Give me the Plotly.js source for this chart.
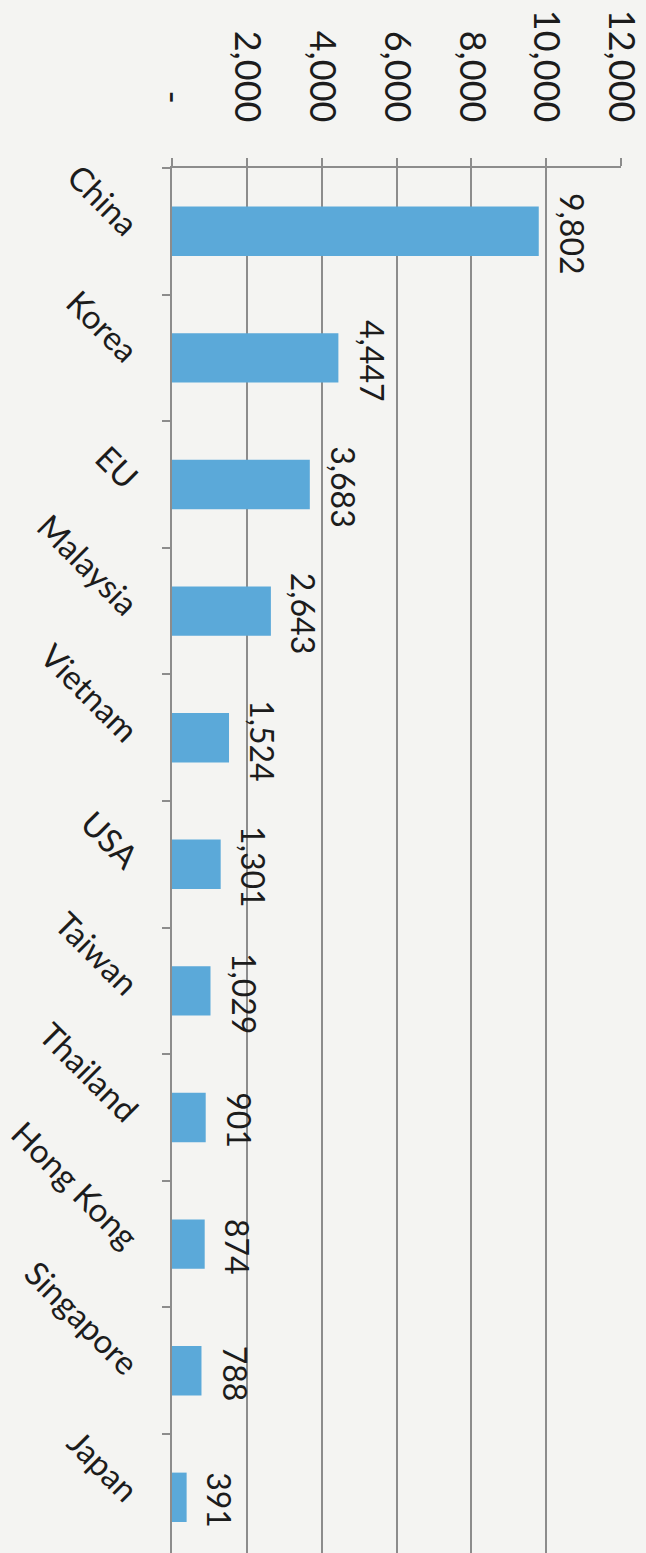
<!DOCTYPE html>
<html>
<head>
<meta charset="utf-8">
<script src="https://cdn.plot.ly/plotly-3.0.1.min.js"></script>
<style>
  html, body { margin: 0; padding: 0; background: #f4f4f2; }
  #chart { width: 646px; height: 1553px; }
</style>
</head>
<body>
<div id="chart"></div>
<script>
// Partner economies and their values
const categories = ["China", "Korea", "EU", "Malaysia", "Vietnam", "USA",
                    "Taiwan", "Thailand", "Hong Kong", "Singapore", "Japan"];
const values = [9802, 4447, 3683, 2643, 1524, 1301, 1029, 901, 874, 788, 391];

// Value-axis ticks
const tickValues = [0, 2000, 4000, 6000, 8000, 10000, 12000];
const tickLabels = ["-\u00a0\u00a0", "2,000", "4,000", "6,000", "8,000", "10,000", "12,000"];

const FONT = "Lato, 'Open Sans', 'DejaVu Sans', sans-serif";
const INK = "#1c1c1c";
const GRID = "#8c8c8c";

const trace = {
  type: "bar",
  orientation: "h",
  y: categories,
  x: values,
  marker: { color: "#5ba9d9" },
  hoverinfo: "skip"
};

// Value labels beside each bar end, turned to read top-to-bottom
const fmt = new Intl.NumberFormat("en-US");
const valueLabels = categories.map((c, i) => ({
  x: values[i],
  y: c,
  xref: "x",
  yref: "y",
  text: fmt.format(values[i]),
  showarrow: false,
  textangle: 90,
  xanchor: "left",
  yanchor: "middle",
  xshift: 12,
  yshift: -3,
  font: { family: FONT, size: 32, color: INK }
}));

const layout = {
  width: 646,
  height: 1553,
  margin: { l: 172, r: 25, t: 168, b: 0 },
  paper_bgcolor: "#f4f4f2",
  plot_bgcolor: "#f4f4f2",
  showlegend: false,
  bargap: 0.61,
  annotations: valueLabels,
  xaxis: {
    side: "top",
    range: [0, 12000],
    tickvals: tickValues,
    ticktext: tickLabels,
    tickangle: 90,
    tickfont: { family: FONT, size: 36, color: INK },
    ticks: "outside",
    ticklen: 8,
    tickwidth: 2,
    tickcolor: GRID,
    ticklabelstandoff: 23,
    showline: true,
    linecolor: GRID,
    linewidth: 2,
    showgrid: true,
    gridcolor: GRID,
    gridwidth: 2,
    zeroline: false,
    fixedrange: true
  },
  yaxis: {
    type: "category",
    range: [10.44, -0.5],
    tickangle: 45,
    tickfont: { family: FONT, size: 33, color: INK },
    ticks: "outside",
    tickson: "boundaries",
    ticklen: 8,
    tickwidth: 2,
    tickcolor: GRID,
    ticklabelstandoff: 28,
    showline: true,
    linecolor: GRID,
    linewidth: 2,
    showgrid: false,
    zeroline: false,
    fixedrange: true
  }
};

Plotly.newPlot("chart", [trace], layout, { displayModeBar: false, staticPlot: true });
</script>
</body>
</html>
